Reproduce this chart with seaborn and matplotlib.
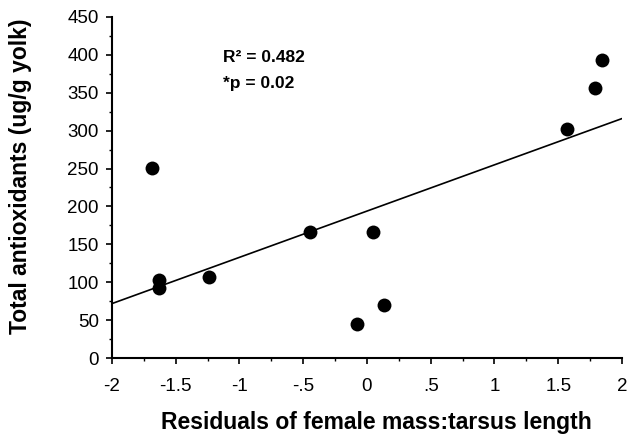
import matplotlib
matplotlib.use("Agg")
import matplotlib.pyplot as plt
from matplotlib.ticker import MultipleLocator
import seaborn as sns
import pandas as pd

residuals = [-1.69, -1.63, -1.63, -1.24, -0.45, 0.05, 0.13, -0.08, 1.57, 1.79, 1.84]
antioxidants = [251, 103, 92, 107, 166, 166, 70, 45, 302, 356, 393]
x_ticks = [-2, -1.5, -1, -0.5, 0, 0.5, 1, 1.5, 2]
x_tick_labels = ["-2", "-1.5", "-1", "-.5", "0", ".5", "1", "1.5", "2"]
y_ticks = [0, 50, 100, 150, 200, 250, 300, 350, 400, 450]

df = pd.DataFrame({"x": residuals, "y": antioxidants})

sns.set_style("ticks", {"text.color": "black", "axes.labelcolor": "black",
                        "xtick.color": "black", "ytick.color": "black",
                        "axes.edgecolor": "black"})
plt.rcParams["font.family"] = ["Liberation Sans", "DejaVu Sans"]

fig = plt.figure(figsize=(6.27, 4.34), dpi=100)
ax = fig.add_axes([0.1786, 0.175, 0.8134, 0.786])
ax.set_xlim(-2, 2)
ax.set_ylim(0, 450)

sns.regplot(data=df, x="x", y="y", ax=ax, ci=None, truncate=False,
            scatter_kws=dict(s=100, color="black", edgecolor="black", linewidths=0, alpha=1),
            line_kws=dict(color="black", lw=1.2))
ax.set_xlim(-2, 2)
ax.set_ylim(0, 450)

ax.set_xticks(x_ticks)
ax.set_xticklabels(x_tick_labels)
ax.set_yticks(y_ticks)
ax.xaxis.set_minor_locator(MultipleLocator(0.25))
ax.yaxis.set_minor_locator(MultipleLocator(25))
ax.tick_params(axis="both", which="major", direction="out", length=4.5, width=1.2,
               labelsize=13.5, colors="black", labelcolor="black")
ax.tick_params(axis="y", which="major", pad=5)
ax.tick_params(axis="x", which="major", pad=10)
ax.tick_params(axis="both", which="minor", direction="out", length=2.5, width=1, colors="black")

for s in ["top", "right"]:
    ax.spines[s].set_visible(False)
for s in ["left", "bottom"]:
    ax.spines[s].set_linewidth(1.5)
    ax.spines[s].set_color("black")

ax.set_xlabel("Residuals of female mass:tarsus length", fontsize=16.5, fontweight="bold", color="black")
ax.set_ylabel("Total antioxidants (ug/g yolk)", fontsize=16.5, fontweight="bold", color="black")
ax.xaxis.set_label_coords(0.519, -0.155)
ax.yaxis.set_label_coords(-0.157, 0.532)

ax.text(0.218, 0.880, "R² = 0.482", transform=ax.transAxes, fontsize=12.5,
        fontweight="bold", va="center", ha="left", color="black")
ax.text(0.218, 0.806, "*p = 0.02", transform=ax.transAxes, fontsize=12.5,
        fontweight="bold", va="center", ha="left", color="black")

fig.savefig("out.png", dpi=100)
